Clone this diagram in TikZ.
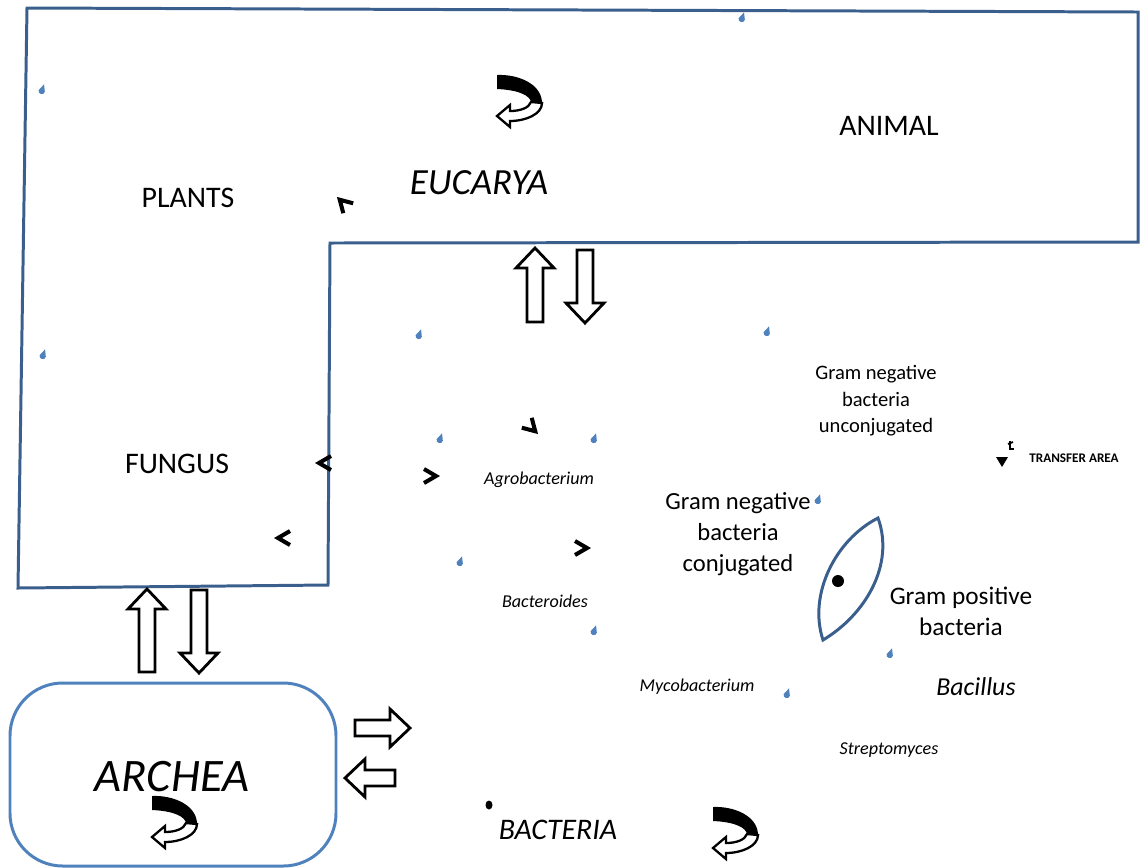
\documentclass[tikz,border=0pt]{standalone}
\usepackage{fontspec}
\setmainfont{Carlito}
\definecolor{azuloscuro}{HTML}{3A5F8C}
\definecolor{azulclaro}{HTML}{4F81BD}
\begin{document}
\begin{tikzpicture}[x=0.02cm, y=-0.02cm,
    borde/.style={azuloscuro, line width=1.7pt},
    reino/.style={font=\fontsize{17}{20}\selectfont, anchor=base},
    dominio/.style={font=\itshape\fontsize{21}{24}\selectfont, anchor=base},
    genero/.style={font=\itshape\fontsize{10.3}{12}\selectfont, anchor=base},
    grupo/.style={align=center},
    chev/.style={line width=2.3pt},
    pics/flecha/.style={code={
        \draw[line width=1.6pt, fill=white] (0,-8) -- (#1-20,-8) -- (#1-20,-19) -- (#1,0)
            -- (#1-20,19) -- (#1-20,8) -- (0,8) -- cycle;
    }},
    pics/giro/.style={code={
        \fill (-21,-25) .. controls (0,-26) and (24,-16) .. (24,3) -- (13,2)
            .. controls (12,-4) and (2,-10) .. (-21,-11) -- cycle;
        \draw[line width=1.3pt, fill=white] (13,2) .. controls (11,8) and (2,11) .. (-8,11)
            -- (-8,5) -- (-21,16) -- (-8,27) -- (-8,21) .. controls (8,21) and (24,14) .. (24,3) -- cycle;
    }},
    pics/punta/.style={code={
        \draw[chev] (6,-7) -- (-6,0) -- (6,7);
    }},
    pics/gota/.style={code={
        \fill[azulclaro, rotate=-15] (0.5,-6) -- (3.2,1) arc[start angle=0, end angle=180, radius=3.2] -- cycle;
    }}]
    \useasboundingbox (0,0) rectangle (1140,867);

    % Eucarya
    \draw[borde] (27,8) -- (1138,12) -- (1138,242) -- (330,243) -- (328,585) -- (18,588) -- cycle;

    % Archea
    \draw[azulclaro, line width=1.7pt, rounded corners=30] (10,683) rectangle (336,866);

    % Textos
    \node[dominio] (eucarya) at (479,194) {EUCARYA};
    \node[reino] (animal) at (889,135) {ANIMAL};
    \node[reino] (plants) at (188,207) {PLANTS};
    \node[reino] (fungus) at (177,473) {FUNGUS};
    \node[dominio, font=\itshape\fontsize{26.5}{30}\selectfont] (archea) at (172,791) {ARCHEA};
    \node[dominio, font=\itshape\fontsize{17}{20}\selectfont] (bacteria) at (558,839) {BACTERIA};
    \node[genero] (agro) at (539,484) {Agrobacterium};
    \node[genero] (bacteroides) at (545,607) {Bacteroides};
    \node[genero] (myco) at (697,691) {Mycobacterium};
    \node[genero] (strepto) at (889,754) {Streptomyces};
    \node[genero, font=\itshape\fontsize{14.7}{17}\selectfont] (bacillus) at (976,695) {Bacillus};
    \node[grupo, font=\fontsize{11.7}{15}\selectfont] (noconj) at (876,401)
        {Gram negative\\bacteria\\unconjugated};
    \node[grupo, font=\fontsize{14}{17.6}\selectfont] (conj) at (738,534)
        {Gram negative\\bacteria\\conjugated};
    \node[grupo, font=\fontsize{14.4}{17.6}\selectfont] (positiva) at (961,611)
        {Gram positive\\bacteria};
    \node[font=\bfseries\fontsize{7.5}{9}\selectfont, anchor=base] (transfer) at (1074,462) {TRANSFER AREA};

    % Flechas de bloque
    \pic[rotate=90] at (535,322) {flecha=74};
    \pic[rotate=-90] at (585,250) {flecha=73};
    \pic[rotate=90] at (147,672) {flecha=83};
    \pic[rotate=-90] at (199,590) {flecha=83};
    \pic at (355,728) {flecha=55};
    \pic[rotate=180] at (395,778) {flecha=50};

    % Flechas de giro
    \pic at (518,100) {giro};
    \pic at (173,821) {giro};
    \pic at (734,832) {giro};

    % Puntas
    \pic[rotate=-45] at (344,204) {punta};
    \pic at (325,463) {punta};
    \pic at (284,538) {punta};
    \pic[rotate=180] at (430,476) {punta};
    \pic[rotate=180] at (581,548) {punta};
    \pic[rotate=135] at (531,427) {punta};

    % Gotas
    \foreach \p in {(742,18),(42,90),(43,355),(419,335),(767,332),(440,439),(594,439),
                    (818,500),(460,562),(594,631),(890,654),(787,694)}
        \pic at \p {gota};

    % Lente y puntos
    \draw[azuloscuro, line width=1.7pt] (878,518) .. controls (835,540) and (808,595) .. (823,640)
        .. controls (865,615) and (895,565) .. cycle;
    \fill (838,581) circle (6);
    \fill (489,805) ellipse (3.5 and 4.5);

    % Marca de transferencia
    \fill (996,457) -- (1008,457) -- (1002,467) -- cycle;
    \draw[line width=1.2pt] (1010,441) -- (1010,449) -- (1014,449);
    \draw[line width=1pt] (1008,444) -- (1013,442);
\end{tikzpicture}
\end{document}
